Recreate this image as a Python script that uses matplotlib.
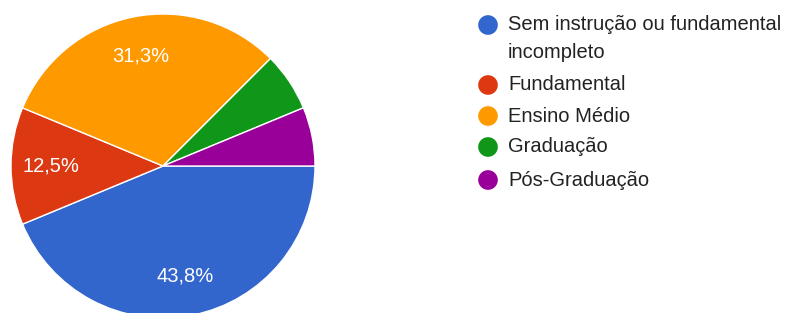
import matplotlib.pyplot as plt

categories = [
    "Sem instrução ou fundamental\nincompleto",
    "Fundamental",
    "Ensino Médio",
    "Graduação",
    "Pós-Graduação",
]
counts = [7, 2, 5, 1, 1]
colors = ["#3366cc", "#dc3912", "#ff9900", "#109618", "#990099"]

plt.rcParams["font.family"] = ["Liberation Sans", "DejaVu Sans"]

W, H = 789, 313
fig = plt.figure(figsize=(W / 100, H / 100), dpi=100)

# pie axes: centre (163, 166) px from top, radius 152 px
cx, cy, r = 163, 166, 152
ax = fig.add_axes([(cx - r) / W, (H - cy - r) / H, 2 * r / W, 2 * r / H])


def pct_label(p):
    # round half up, like the original (31.25 -> 31,3)
    p = float(p) + 1e-6
    return f"{p:.1f}%".replace(".", ",") if p > 10 else ""


wedges, _, autotexts = ax.pie(
    counts,
    colors=colors,
    startangle=0,
    counterclock=False,
    autopct=pct_label,
    pctdistance=0.74,
    wedgeprops=dict(edgecolor="white", linewidth=1),
    textprops=dict(color="white", fontsize=14.5),
)
ax.set_xlim(-1, 1)
ax.set_ylim(-1, 1)
ax.set_aspect("equal")
for w in wedges:
    w.set_clip_on(False)

# legend
lax = fig.add_axes([0, 0, 1, 1])
lax.set_xlim(0, W)
lax.set_ylim(H, 0)
lax.axis("off")
row_y = [25, 85, 116, 147, 180]
for name, col, y in zip(categories, colors, row_y):
    lax.scatter([488], [y], s=200, color=col, edgecolors="none")
    for k, line in enumerate(name.split("\n")):
        lax.text(508, y + 28 * k, line, fontsize=14.5, color="#222222",
                 va="center", ha="left")

fig.savefig("out.png", dpi=100)
